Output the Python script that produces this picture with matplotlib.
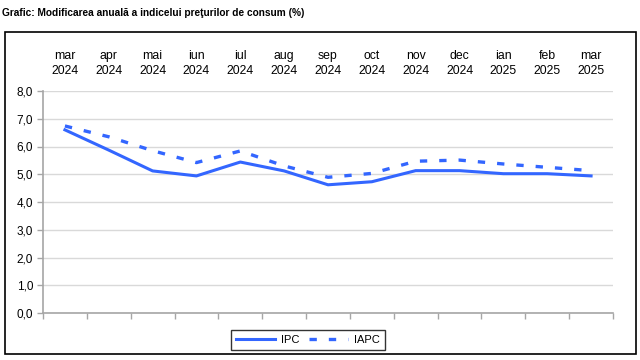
import matplotlib
matplotlib.use('Agg')
import matplotlib.pyplot as plt
from matplotlib.patches import Rectangle
from matplotlib.ticker import FuncFormatter

plt.rcParams['font.family'] = ['Liberation Sans', 'DejaVu Sans']

# date
months = ['mar\n2024', 'apr\n2024', 'mai\n2024', 'iun\n2024', 'iul\n2024', 'aug\n2024',
          'sep\n2024', 'oct\n2024', 'nov\n2024', 'dec\n2024', 'ian\n2025', 'feb\n2025', 'mar\n2025']
ipc = [6.6, 5.87, 5.12, 4.94, 5.44, 5.12, 4.62, 4.73, 5.13, 5.13, 5.02, 5.02, 4.94]
iapc = [6.74, 6.35, 5.85, 5.42, 5.84, 5.3, 4.89, 5.03, 5.47, 5.51, 5.37, 5.25, 5.13]

blue = '#3366ff'
grey = '#a6a6a6'

fig = plt.figure(figsize=(6.4, 3.6), dpi=100)
fig.text(0.003, 0.965, 'Grafic: Modificarea anuală a indicelui preţurilor de consum (%)',
         fontsize=7.3, fontweight='bold', va='center', ha='left')

# outer frame
fig.patches.append(Rectangle((5/640, 1-354/360), 631/640, 322/360, transform=fig.transFigure,
                             fill=False, edgecolor='black', lw=1.2))

ax = fig.add_axes([43/640, 1-313/360, 570/640, 222/360])
x = list(range(len(months)))
ax.plot(x, ipc, color=blue, lw=2.2, label='IPC')
ax.plot(x, iapc, color=blue, lw=2.4, dashes=(2.2, 3.6), label='IAPC')

ax.set_xlim(-0.5, len(months) - 0.5)
ax.set_ylim(0, 8)
ax.set_yticks(range(0, 9))
ax.yaxis.set_major_formatter(FuncFormatter(lambda v, p: f'{v:.1f}'.replace('.', ',')))
ax.grid(axis='y', color='#d9d9d9', lw=1)
ax.set_axisbelow(True)

ax.xaxis.tick_top()
ax.set_xticks(x)
ax.set_xticklabels(months, fontsize=8.8, linespacing=1.4)
ax.tick_params(axis='x', which='major', length=0, pad=10)
ax.set_xticks([i - 0.5 for i in range(len(months) + 1)], minor=True)
ax.tick_params(axis='x', which='minor', bottom=True, top=False, length=4, direction='out',
               color=grey, width=1)
ax.tick_params(axis='y', labelsize=8.5, length=4, color=grey, width=1, pad=3)

for s in ['top', 'right']:
    ax.spines[s].set_visible(False)
for s in ['left', 'bottom']:
    ax.spines[s].set_color(grey)
    ax.spines[s].set_linewidth(1.2)

leg = fig.legend(loc='center', bbox_to_anchor=(308/640, 1-340/360), ncol=2, fontsize=8,
                 frameon=True, fancybox=False, edgecolor='black', handlelength=3.5,
                 columnspacing=0.9, handletextpad=0.5, borderpad=0.45)
leg.get_frame().set_linewidth(1)

fig.savefig('out.png', dpi=100)
